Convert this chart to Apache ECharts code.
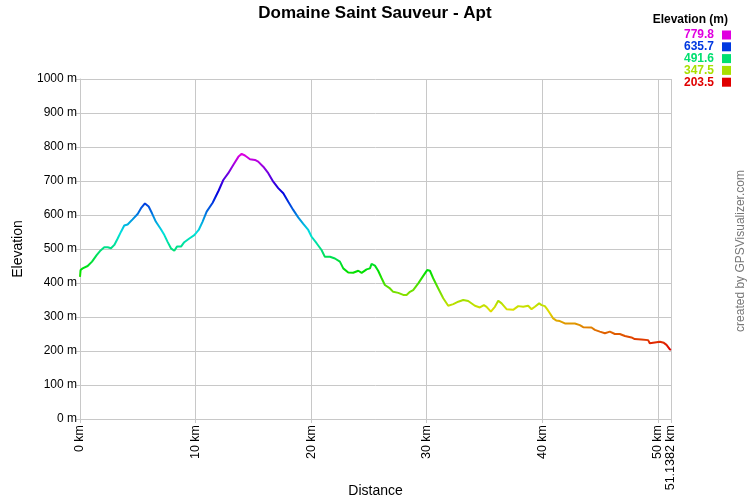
<!DOCTYPE html>
<html>
<head>
<meta charset="utf-8">
<script src="https://cdn.jsdelivr.net/npm/echarts@6/dist/echarts.min.js"></script>
<style>html,body{margin:0;padding:0;background:#fff}#c{width:750px;height:500px}</style>
</head>
<body>
<div id="c"></div>
<script>
const distanceKm = [0,0.05,0.23,0.66,1.04,1.44,1.73,2.1,2.4,2.68,2.97,3.26,3.55,3.83,4.12,4.55,4.99,5.28,5.62,5.75,5.94,6.23,6.57,7.0,7.3,7.58,7.87,8.16,8.39,8.74,9.02,9.46,9.89,10.27,10.6,10.96,11.48,12.0,12.4,12.83,13.26,13.7,13.99,14.27,14.71,15.14,15.42,15.86,16.29,16.72,17.15,17.59,18.02,18.45,18.88,19.32,19.75,20.04,20.47,20.9,21.19,21.63,22.06,22.49,22.78,23.21,23.64,24.08,24.37,24.8,25.09,25.23,25.52,25.8,26.1,26.38,26.82,27.1,27.54,27.97,28.26,28.55,28.83,29.27,29.7,30.04,30.28,30.56,31.0,31.43,31.86,32.3,32.73,33.16,33.59,34.17,34.6,34.95,35.18,35.55,35.9,36.19,36.48,36.91,37.48,37.92,38.35,38.78,39.07,39.36,39.73,39.94,40.22,40.42,40.66,40.94,41.2,41.52,41.96,42.82,43.25,43.54,44.26,44.55,44.98,45.42,45.85,46.28,46.71,47.15,47.72,48.0,48.58,49.16,49.3,49.36,50.17,50.52,50.75,50.89,51.04,51.1382];
const elevationM = [418,438,443,450,463,482,494,505,505,502,512,531,551,569,572,587,603,620,634,635.7,625,605,580,558,541,521,502,495,507,507,520,531,541,556,580,610,636,672,703,723,747,771,779.8,775,764,762,757,742,723,698,679,664,639,615,593,574,556,536,517,497,477,477,472,463,443,431,430,436,430,440,443,456,451,436,414,394,384,374,371,365,365,374,379,399,421,438,436,414,384,355,333,338,345,350,347,333,328,335,330,316,330,348,340,323,321,332,330,333,323,330,340,335,332,323,311,296,290,288,281,281,276,270,269,262,257,252,257,250,250,244,240,235,234,232,223,227,227,224,218,213,205,203.5];
const legendValues = [779.8, 635.7, 491.6, 347.5, 203.5];
const elevMin = 203.5, elevMax = 779.8;
const yTicks = [0,100,200,300,400,500,600,700,800,900,1000];
const xMax = 51.1382;

function hslHex(h, s, l) {
  const a = s * Math.min(l, 1 - l);
  const f = n => { const k = (n + h / 30) % 12; const c = l - a * Math.max(Math.min(k - 3, 9 - k, 1), -1); return Math.round(255 * c).toString(16).padStart(2, '0'); };
  return '#' + f(0) + f(8) + f(4);
}
function colorFor(v) { return hslHex(300 * (v - elevMin) / (elevMax - elevMin), 1, 0.44); }
const rampColors = [];
for (let h = 0; h <= 300; h += 10) rampColors.push(hslHex(h, 1, 0.44));

const data = distanceKm.map((d, i) => [d, elevationM[i]]);
const FONT = '"Liberation Sans", Arial, sans-serif';

const graphics = [];
graphics.push({ type: 'text', x: 728, y: 20, style: { text: 'Elevation (m)', fill: '#000', font: 'bold 12px ' + FONT, textAlign: 'right', textVerticalAlign: 'middle' } });
legendValues.forEach((v, i) => {
  const cy = 35 + i * 11.8;
  graphics.push({ type: 'text', x: 714, y: cy, style: { text: v.toFixed(1), fill: colorFor(v), font: 'bold 12px ' + FONT, textAlign: 'right', textVerticalAlign: 'middle' } });
  graphics.push({ type: 'rect', shape: { x: 722, y: cy - 4.5, width: 9, height: 9 }, style: { fill: colorFor(v) } });
});
graphics.push({ type: 'text', x: 741, y: 251, rotation: Math.PI / 2, style: { text: 'created by GPSVisualizer.com', fill: '#777', font: '12px ' + FONT, textAlign: 'center', textVerticalAlign: 'middle' } });

const chart = echarts.init(document.getElementById('c'), null, { renderer: 'canvas' });
chart.setOption({
  animation: false,
  backgroundColor: '#fff',
  title: { text: 'Domaine Saint Sauveur - Apt', left: 'center', top: 0, textStyle: { fontFamily: FONT, fontSize: 17, fontWeight: 'bold', color: '#000' } },
  grid: { left: 80, right: 79, top: 79, bottom: 81, containLabel: false, outerBoundsMode: 'none' },
  xAxis: {
    type: 'value', min: 0, max: xMax, interval: 10,
    name: 'Distance', nameLocation: 'middle', nameGap: 65, nameMoveOverlap: false,
    nameTextStyle: { fontFamily: FONT, fontSize: 14, color: '#000' },
    axisLine: { show: true, lineStyle: { color: '#c8c8c8' } },
    axisTick: { show: true, length: 4, lineStyle: { color: '#c8c8c8' } },
    axisLabel: { rotate: 90, margin: 6, showMaxLabel: true, showMinLabel: true, hideOverlap: false, fontFamily: FONT, fontSize: 12.5, color: '#000', formatter: v => v + ' km' },
    splitLine: { show: true, lineStyle: { color: '#c8c8c8', width: 1 } }
  },
  yAxis: {
    type: 'value', min: yTicks[0], max: yTicks[yTicks.length - 1], interval: 100,
    name: 'Elevation', nameLocation: 'middle', nameGap: 55, nameRotate: 90, nameMoveOverlap: false,
    nameTextStyle: { fontFamily: FONT, fontSize: 14, color: '#000' },
    axisLine: { show: true, lineStyle: { color: '#c8c8c8' } },
    axisTick: { show: true, length: 4, lineStyle: { color: '#c8c8c8' } },
    axisLabel: { margin: 3, fontFamily: FONT, fontSize: 12, color: '#000', formatter: v => v + ' m' },
    splitLine: { show: true, lineStyle: { color: '#c8c8c8', width: 1 } }
  },
  visualMap: { show: false, type: 'continuous', dimension: 1, min: elevMin, max: elevMax, inRange: { color: rampColors }, seriesIndex: 0 },
  series: [{ type: 'line', data: data, showSymbol: false, symbol: 'none', lineStyle: { width: 2 }, smooth: false }],
  graphic: graphics
});
</script>
</body>
</html>
